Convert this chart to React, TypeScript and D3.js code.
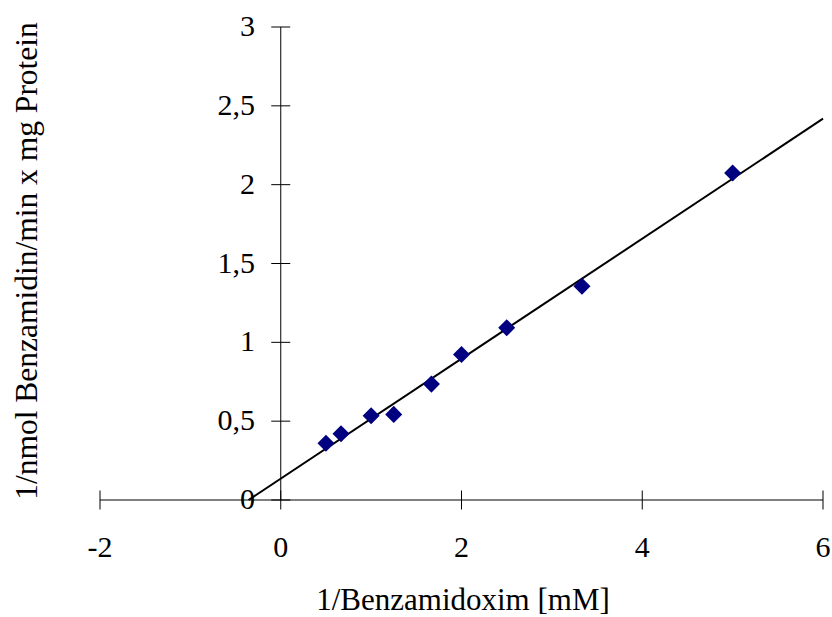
import React from "react";
import * as d3 from "d3";

const xValues = [0.5, 0.667, 1, 1.25, 1.667, 2, 2.5, 3.333, 5];
const yValues = [0.36, 0.42, 0.534, 0.543, 0.735, 0.923, 1.092, 1.356, 2.074];
const xTicks = [-2, 0, 2, 4, 6];
const yTicks = [0, 0.5, 1, 1.5, 2, 2.5, 3];
const xTitle = "1/Benzamidoxim [mM]";
const yTitle = "1/nmol Benzamidin/min x mg Protein";

const W = 832;
const H = 617;
const FONT = "'Liberation Serif', 'Times New Roman', serif";

export default function App() {
  const x = d3.scaleLinear().domain([-2, 6]).range([100, 823]);
  const y = d3.scaleLinear().domain([0, 3]).range([500, 27]);

  // linear regression trendline
  const mx = d3.mean(xValues) as number;
  const my = d3.mean(yValues) as number;
  let sxy = 0;
  let sxx = 0;
  xValues.forEach((v, i) => {
    sxy += (v - mx) * (yValues[i] - my);
    sxx += (v - mx) * (v - mx);
  });
  const slope = sxy / sxx;
  const intercept = my - slope * mx;
  const x0 = -intercept / slope;
  const lineData: [number, number][] = [
    [x0, 0],
    [6, slope * 6 + intercept],
  ];
  const line = d3
    .line<[number, number]>()
    .x((d) => x(d[0]))
    .y((d) => y(d[1]));

  const fmt = (v: number) => String(v).replace(".", ",");
  const diamond = d3.symbol().type(d3.symbolDiamond2).size(185)();

  return (
    <svg
      width={W}
      height={H}
      style={{ position: "absolute", left: 0, top: 0, background: "#fff" }}
      fontFamily={FONT}
    >
      <rect width={W} height={H} fill="#fff" />
      {/* x axis */}
      <line x1={x(-2)} x2={x(6)} y1={y(0)} y2={y(0)} stroke="#000" strokeWidth={1} />
      {xTicks.map((t) => (
        <g key={"xt" + t}>
          <line x1={x(t)} x2={x(t)} y1={y(0) - 9.5} y2={y(0) + 9.5} stroke="#000" strokeWidth={1} />
          <text x={x(t)} y={557} textAnchor="middle" fontSize={30} fill="#000">
            {fmt(t)}
          </text>
        </g>
      ))}
      {/* y axis */}
      <line x1={x(0)} x2={x(0)} y1={y(0)} y2={y(3)} stroke="#000" strokeWidth={1} />
      {yTicks.map((t) => (
        <g key={"yt" + t}>
          <line x1={x(0) - 9.5} x2={x(0) + 9.5} y1={y(t)} y2={y(t)} stroke="#000" strokeWidth={1} />
          <text x={255} y={y(t) + 9} textAnchor="end" fontSize={30} fill="#000">
            {fmt(t)}
          </text>
        </g>
      ))}
      {/* trendline */}
      <path d={line(lineData) || ""} fill="none" stroke="#000" strokeWidth={2} />
      {/* points */}
      {xValues.map((v, i) => (
        <path
          key={"p" + i}
          d={diamond || ""}
          transform={`translate(${x(v)},${y(yValues[i])})`}
          fill="#000080"
        />
      ))}
      {/* titles */}
      <text x={463} y={610} textAnchor="middle" fontSize={31} fill="#000">
        {xTitle}
      </text>
      <text
        transform={`translate(37,261) rotate(-90)`}
        textAnchor="middle"
        fontSize={31.5}
        fill="#000"
      >
        {yTitle}
      </text>
    </svg>
  );
}
